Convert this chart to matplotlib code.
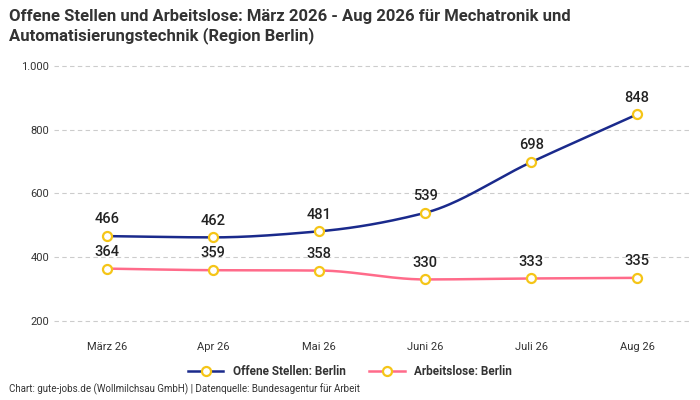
import numpy as np
import matplotlib
matplotlib.use("Agg")
import matplotlib.pyplot as plt
from matplotlib.lines import Line2D

plt.rcParams["font.family"] = ["Roboto", "DejaVu Sans"]

months = ["März 26", "Apr 26", "Mai 26", "Juni 26", "Juli 26", "Aug 26"]
offene = [466, 462, 481, 539, 698, 848]
arbeitslose = [364, 359, 358, 330, 333, 335]

BLUE = "#1a2a8c"
PINK = "#ff6b8a"
GOLD = "#f5c518"


def pchip(x, y, n=40):
    x = np.asarray(x, float); y = np.asarray(y, float)
    h = np.diff(x); d = np.diff(y) / h
    m = np.zeros_like(y)
    for i in range(1, len(y) - 1):
        if d[i - 1] * d[i] > 0:
            m[i] = 2 / (1 / d[i - 1] + 1 / d[i])
    m[0] = d[0]; m[-1] = d[-1]
    xs, ys = [], []
    for i in range(len(h)):
        t = np.linspace(0, 1, n)
        h00 = 2*t**3 - 3*t**2 + 1; h10 = t**3 - 2*t**2 + t
        h01 = -2*t**3 + 3*t**2; h11 = t**3 - t**2
        xs.append(x[i] + t*h[i])
        ys.append(h00*y[i] + h10*h[i]*m[i] + h01*y[i+1] + h11*h[i]*m[i+1])
    return np.concatenate(xs), np.concatenate(ys)


fig = plt.figure(figsize=(7, 4), dpi=100)
ax = fig.add_axes([0.077, 0.158, 0.909, 0.717])
x = np.arange(len(months))
for vals, col in [(offene, BLUE), (arbeitslose, PINK)]:
    sx, sy = pchip(x, vals)
    ax.plot(sx, sy, color=col, lw=1.8, zorder=2)
    ax.plot(x, vals, "o", ms=6.5, mfc="white", mec=GOLD, mew=1.6, zorder=3)
    for xi, v in zip(x, vals):
        ax.annotate(f"{v}", (xi, v), xytext=(0, 7), textcoords="offset points",
                    ha="center", va="bottom", fontsize=10.5, fontweight="medium",
                    color="#222222")

ax.set_xlim(-0.5, 5.5)
ax.set_ylim(150, 1050)
ax.set_yticks([200, 400, 600, 800, 1000])
ax.set_yticklabels(["200", "400", "600", "800", "1.000"])
ax.set_xticks(x)
ax.set_xticklabels(months)
ax.tick_params(length=0, labelsize=8, colors="#333333")
ax.grid(axis="y", color="#cccccc", ls=(0, (4, 3)), lw=0.8)
for s in ax.spines.values():
    s.set_visible(False)

fig.text(0.013, 0.978, "Offene Stellen und Arbeitslose: März 2026 - Aug 2026 für Mechatronik und\n"
         "Automatisierungstechnik (Region Berlin)", ha="left", va="top",
         fontsize=12, fontweight="bold", color="#333333", linespacing=1.25)

handles = [Line2D([], [], color=BLUE, lw=1.8, marker="o", ms=6.5, mfc="white", mec=GOLD, mew=1.6),
           Line2D([], [], color=PINK, lw=1.8, marker="o", ms=6.5, mfc="white", mec=GOLD, mew=1.6)]
leg = fig.legend(handles, ["Offene Stellen: Berlin", "Arbeitslose: Berlin"], loc="center",
                 bbox_to_anchor=(0.5, 0.072), ncol=2, frameon=False, fontsize=8.5,
                 handlelength=3, columnspacing=2.0)
for t in leg.get_texts():
    t.set_fontweight("bold"); t.set_color("#333333")

fig.text(0.013, 0.018, "Chart: gute-jobs.de (Wollmilchsau GmbH) | Datenquelle: Bundesagentur für Arbeit",
         fontsize=7, color="#333333")
fig.savefig("out.png", dpi=100)
